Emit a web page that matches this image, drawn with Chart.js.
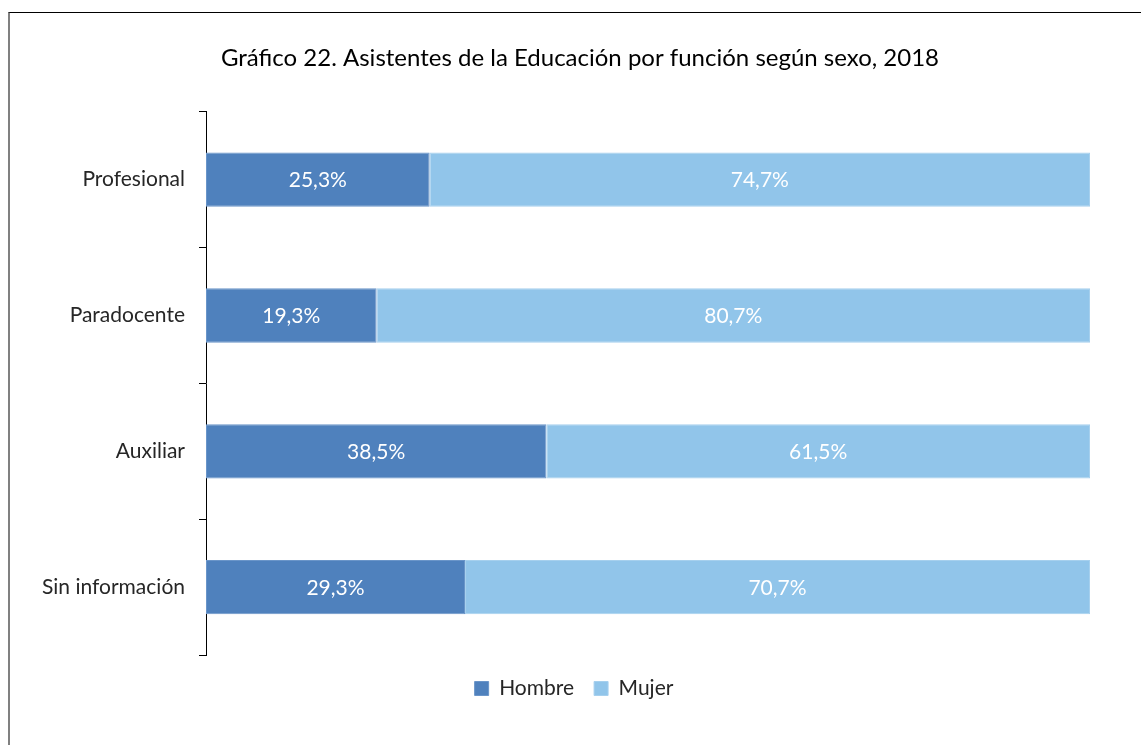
<!DOCTYPE html>
<html>
<head>
<meta charset="utf-8">
<script src="https://cdn.jsdelivr.net/npm/chart.js@4/dist/chart.umd.min.js"></script>
<style>
  html, body { margin: 0; padding: 0; background: #fff; overflow: hidden; }
  #frame { position: absolute; left: 8px; top: 12px; width: 1200px; height: 800px;
           border-top: 1px solid #000; border-left: 2px solid #808080; }
  #c { position: absolute; left: 0; top: 0; }
</style>
</head>
<body>
<div id="frame"></div>
<canvas id="c" width="1141" height="745"></canvas>
<script>
const categories = ["Profesional", "Paradocente", "Auxiliar", "Sin información"];
const hombre = [25.3, 19.3, 38.5, 29.3];
const mujer  = [74.7, 80.7, 61.5, 70.7];
const seriesNames = ["Hombre", "Mujer"];
const titleText = "Gráfico 22. Asistentes de la Educación por función según sexo, 2018";

const FONT = "Lato, 'Liberation Sans', sans-serif";

const fmt = v => v.toFixed(1).replace('.', ',') + '%';

const labelPlugin = {
  id: 'barLabels',
  afterLayout(chart) {
    // centre title and legend on the outer frame rather than the canvas
    if (chart.titleBlock) chart.titleBlock.left = 70;
    if (chart.legend) {
      chart.legend.left = 58;
      chart.legend.top += 3;
      chart.legend.bottom += 3;
    }
  },
  afterDatasetsDraw(chart) {
    const ctx = chart.ctx;
    ctx.save();
    ctx.fillStyle = '#ffffff';
    ctx.font = '21px ' + FONT;
    ctx.textAlign = 'center';
    ctx.textBaseline = 'middle';
    chart.data.datasets.forEach((ds, di) => {
      const meta = chart.getDatasetMeta(di);
      meta.data.forEach((bar, i) => {
        const x = (bar.x + bar.base) / 2;
        ctx.fillText(fmt(ds.data[i]), x, bar.y + 1);
      });
    });
    ctx.restore();
  }
};

new Chart(document.getElementById('c'), {
  type: 'bar',
  data: {
    labels: categories,
    datasets: [
      { label: seriesNames[0], data: hombre, backgroundColor: '#4F81BD',
        borderColor: '#6A95C9', borderWidth: 1, borderSkipped: false },
      { label: seriesNames[1], data: mujer, backgroundColor: '#91C5EA',
        borderColor: '#A6D0EE', borderWidth: 1, borderSkipped: false }
    ]
  },
  options: {
    responsive: false,
    animation: false,
    indexAxis: 'y',
    layout: { padding: { left: 0, right: 51, top: 0, bottom: 39 } },
    datasets: { bar: { categoryPercentage: 1, barPercentage: 0.4 } },
    scales: {
      x: { stacked: true, display: false, min: 0, max: 100 },
      y: {
        stacked: true,
        offset: true,
        afterFit(scale) { scale.width = 206; },
        grid: { display: true, offset: true, drawOnChartArea: false, drawTicks: true,
                tickLength: 7, color: '#000', lineWidth: 1 },
        border: { display: true, color: '#000', width: 1 },
        ticks: { color: '#262626', font: { family: FONT, size: 21 }, padding: 14 }
      }
    },
    plugins: {
      title: { display: true, text: titleText, color: '#000',
               font: { family: FONT, size: 24, weight: 'normal' },
               padding: { top: 44, bottom: 39 } },
      legend: { position: 'bottom',
                labels: { color: '#262626', font: { family: FONT, size: 21 },
                          boxWidth: 14, boxHeight: 14, padding: 20 } },
      tooltip: { enabled: false }
    }
  },
  plugins: [labelPlugin]
});
</script>
</body>
</html>
